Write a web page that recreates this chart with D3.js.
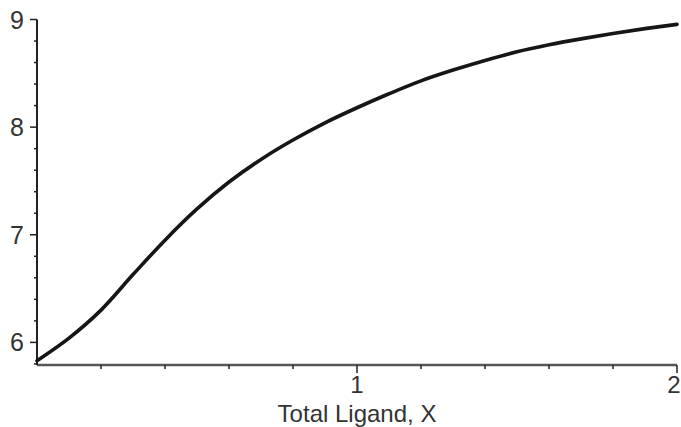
<!DOCTYPE html>
<html>
<head>
<meta charset="utf-8">
<script src="https://cdn.jsdelivr.net/npm/d3@7"></script>
<style>
  body { margin: 0; background: #fff; }
  svg { display: block; }
  text { font-family: "Liberation Sans", Arial, sans-serif; fill: #333; }
</style>
</head>
<body>
<svg id="chart"></svg>
<script>
// values
const ligand = [0, 0.1, 0.2, 0.3, 0.4, 0.5, 0.6, 0.7, 0.8, 0.9, 1.0,
                1.1, 1.2, 1.3, 1.4, 1.5, 1.6, 1.7, 1.8, 1.9, 2.0];
const response = [5.83, 6.04, 6.30, 6.63, 6.95, 7.24, 7.49, 7.70, 7.88, 8.04, 8.18,
                  8.31, 8.43, 8.53, 8.62, 8.70, 8.765, 8.82, 8.87, 8.915, 8.955];
const xTicks = [1, 2];
const yTicks = [6, 7, 8, 9];
const xLabel = "Total Ligand, X";

const width = 681, height = 427;
const svg = d3.select("#chart").attr("width", width).attr("height", height);

const x = d3.scaleLinear().domain([0, 2]).range([37, 677]);
const y = d3.scaleLinear().domain([5.79, 9.0]).range([365, 19.5]);

const data = ligand.map((d, i) => ({x: d, y: response[i]}));

// minor ticks every 0.2
const xMinor = d3.range(0.2, 2, 0.2).filter(v => Math.abs(v - 1) > 1e-6);
const yMinor = d3.range(5.8, 9, 0.2).filter(v => Math.abs(v - Math.round(v)) > 1e-6);

// x axis
const xAxis = svg.append("g");
xAxis.append("line")
  .attr("x1", x(0)).attr("x2", x(2))
  .attr("y1", y(5.79)).attr("y2", y(5.79))
  .attr("stroke", "#555").attr("stroke-width", 2.5);
xAxis.selectAll(".minor").data(xMinor).join("line")
  .attr("x1", d => x(d)).attr("x2", d => x(d))
  .attr("y1", y(5.79)).attr("y2", y(5.79) + 4)
  .attr("stroke", "#222").attr("stroke-width", 1.5);
xAxis.selectAll(".major").data(xTicks).join("line")
  .attr("x1", d => x(d)).attr("x2", d => x(d))
  .attr("y1", y(5.79)).attr("y2", y(5.79) + 8)
  .attr("stroke", "#222").attr("stroke-width", 1.5);
xAxis.selectAll("text").data(xTicks).join("text")
  .attr("x", d => x(d) - (d === 2 ? 3 : 0))
  .attr("y", 393)
  .attr("text-anchor", "middle")
  .attr("font-size", 24)
  .text(d => d);

// y axis
const yAxis = svg.append("g");
yAxis.append("line")
  .attr("x1", x(0)).attr("x2", x(0))
  .attr("y1", y(9)).attr("y2", y(5.79))
  .attr("stroke", "#222").attr("stroke-width", 2);
yAxis.selectAll(".minor").data(yMinor).join("line")
  .attr("x1", x(0) - 3).attr("x2", x(0))
  .attr("y1", d => y(d)).attr("y2", d => y(d))
  .attr("stroke", "#222").attr("stroke-width", 1.5);
yAxis.selectAll(".major").data(yTicks).join("line")
  .attr("x1", x(0) - 7).attr("x2", x(0))
  .attr("y1", d => y(d)).attr("y2", d => y(d))
  .attr("stroke", "#222").attr("stroke-width", 1.5);
yAxis.selectAll("text").data(yTicks).join("text")
  .attr("x", 24)
  .attr("y", d => y(d) + 9)
  .attr("text-anchor", "end")
  .attr("font-size", 25)
  .text(d => d);

// axis title
svg.append("text")
  .attr("x", 357)
  .attr("y", 422)
  .attr("text-anchor", "middle")
  .attr("font-size", 24)
  .text(xLabel);

// curve
const line = d3.line()
  .x(d => x(d.x))
  .y(d => y(d.y))
  .curve(d3.curveCatmullRom.alpha(0.5));

svg.append("path")
  .datum(data)
  .attr("d", line)
  .attr("fill", "none")
  .attr("stroke", "#161616")
  .attr("stroke-width", 3.6)
  .attr("stroke-linecap", "round");
</script>
</body>
</html>
